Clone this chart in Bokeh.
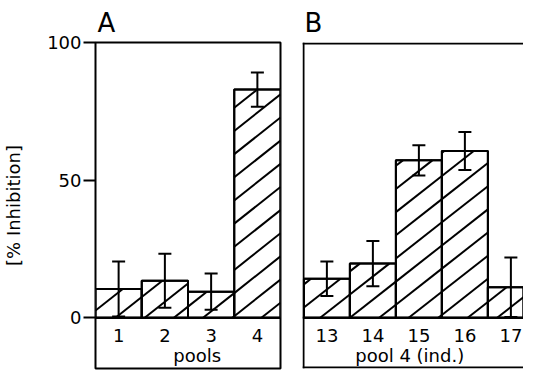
import math
from bokeh.plotting import figure
from bokeh.layouts import row
from bokeh.models import Range1d, Span, Whisker, TeeHead, ColumnDataSource, FixedTicker
from bokeh.embed import file_html
from bokeh.resources import INLINE
from bokeh.core.properties import value

# ---- data ----
pool_labels = ["1", "2", "3", "4"]
pool_values = [10.5, 13.5, 9.5, 82.9]
pool_errors = [10.0, 9.8, 6.6, 6.2]

ind_labels = ["13", "14", "15", "16", "17"]
ind_values = [14.2, 19.7, 57.2, 60.6, 11.1]
ind_errors = [6.3, 8.2, 5.5, 6.9, 10.8]

y_ticks = [0, 50, 100]
y_label = "[% Inhibition]"
titles = ["A", "B"]
x_titles = ["pools", "pool 4 (ind.)"]

# ---- style / layout constants ----
FONT = "DejaVu Sans"
Y0, Y1 = -18.4, 100
FRAME_H = 328
PX_Y = FRAME_H / (Y1 - Y0)
BAR_W = 1.0
HATCH_SLOPE = 0.79      # screen dy/dx of hatch lines
HATCH_SPACING = 23.3    # vertical px between hatch lines


def make_source(labels, vals, errs):
    xs = [float(l) for l in labels]
    return ColumnDataSource(dict(
        x=xs, top=vals, label=labels,
        upper=[v + e for v, e in zip(vals, errs)],
        lower=[v - e for v, e in zip(vals, errs)],
    ))


def hatch_segments(labels, vals, x_ref, px_x, phase):
    """Clip a family of parallel hatch lines to each bar rectangle."""
    m, sv = HATCH_SLOPE, HATCH_SPACING
    out = dict(x0=[], y0=[], x1=[], y1=[])
    for lab, top in zip(labels, vals):
        xc = float(lab)
        xl = (xc - BAR_W / 2 - x_ref) * px_x
        xr = (xc + BAR_W / 2 - x_ref) * px_x
        h = top * PX_Y
        k0 = math.ceil((m * xl - h - phase) / sv)
        k1 = math.floor((m * xr - phase) / sv)
        for k in range(k0, k1 + 1):
            c = k * sv + phase
            a = max(xl, c / m)
            b = min(xr, (h + c) / m)
            if b - a < 0.5:
                continue
            out["x0"].append(x_ref + a / px_x)
            out["y0"].append((m * a - c) / PX_Y)
            out["x1"].append(x_ref + b / px_x)
            out["y1"].append((m * b - c) / PX_Y)
    return ColumnDataSource(out)


def style(p, title):
    p.title.text = title
    p.title.text_font = FONT
    p.title.text_font_size = "26px"
    p.title.text_font_style = "normal"
    p.title.text_color = "black"
    p.title.align = "left"
    p.title.offset = 2
    p.grid.visible = False
    p.xaxis.visible = False
    p.background_fill_color = "white"
    p.border_fill_color = "white"


def draw(p, labels, vals, errs, x_ref, px_x, phase, x_title, x_title_pos):
    src = make_source(labels, vals, errs)
    p.vbar(x="x", top="top", width=BAR_W, source=src, fill_color="white",
           line_color="black", line_width=2)
    hs = hatch_segments(labels, vals, x_ref, px_x, phase)
    p.segment(x0="x0", y0="y0", x1="x1", y1="y1", source=hs,
              line_color="black", line_width=2)
    p.vbar(x="x", top="top", width=BAR_W, source=src, fill_color=None,
           line_color="black", line_width=2)
    w = Whisker(source=src, base="x", upper="upper", lower="lower",
                line_color="black", line_width=2, level="overlay",
                upper_head=TeeHead(size=13, line_width=2, line_color="black"),
                lower_head=TeeHead(size=13, line_width=2, line_color="black"))
    p.add_layout(w)
    p.add_layout(Span(location=0, dimension="width", line_color="black", line_width=2))
    p.text(x="x", y=-6.5, text="label", source=src, text_font=value(FONT),
           text_font_size="18px", text_align="center", text_baseline="middle",
           text_color="black")
    p.text(x=[x_title_pos], y=[-13.8], text=[x_title], text_font=value(FONT),
           text_font_size="18px", text_align="center", text_baseline="middle",
           text_color="black")


# ---- panel A ----
A_LEFT, A_RIGHT, A_W = 93, 8, 288
xa0, xa1 = 0.5, 4.5
PX_XA = (A_W - A_LEFT - A_RIGHT) / (xa1 - xa0)
pA = figure(width=A_W, height=370, x_range=Range1d(xa0, xa1), y_range=Range1d(Y0, Y1),
            output_backend="svg", toolbar_location=None,
            min_border_left=A_LEFT, min_border_right=A_RIGHT, min_border_top=40, min_border_bottom=2)
style(pA, titles[0])
pA.outline_line_color = "black"
pA.outline_line_width = 2
pA.yaxis.ticker = FixedTicker(ticks=y_ticks)
pA.yaxis.minor_tick_line_color = None
pA.yaxis.major_tick_out = 12
pA.yaxis.major_tick_in = 0
pA.yaxis.major_tick_line_width = 2
pA.yaxis.major_tick_line_color = "black"
pA.yaxis.axis_line_color = None
pA.yaxis.major_label_standoff = 2
pA.yaxis.major_label_text_font = FONT
pA.yaxis.major_label_text_font_size = "18px"
pA.yaxis.major_label_text_color = "black"
pA.yaxis.axis_label = y_label
pA.yaxis.axis_label_text_font = FONT
pA.yaxis.axis_label_text_font_size = "18px"
pA.yaxis.axis_label_text_font_style = "normal"
pA.yaxis.axis_label_text_color = "black"
pA.yaxis.axis_label_standoff = 20
draw(pA, pool_labels, pool_values, pool_errors, xa0, PX_XA, 16.0, x_titles[0], 2.7)

# ---- panel B ----
B_LEFT, B_W = 14, 235
PX_XB = 46.0
xb0 = 12.47
xb1 = xb0 + (B_W - B_LEFT) / PX_XB
pB = figure(width=B_W, height=370, x_range=Range1d(xb0, xb1), y_range=Range1d(Y0, Y1),
            output_backend="svg", toolbar_location=None,
            min_border_left=B_LEFT, min_border_right=0, min_border_top=40, min_border_bottom=2)
style(pB, titles[1])
pB.yaxis.visible = False
pB.outline_line_color = None
for loc, dim in [(xb0 + 1 / PX_XB, "height"), (Y1 - 1 / PX_Y, "width"), (Y0 + 1 / PX_Y, "width")]:
    pB.add_layout(Span(location=loc, dimension=dim, line_color="black", line_width=2))
draw(pB, ind_labels, ind_values, ind_errors, xb0, PX_XB, 14.0, x_titles[1], 14.8)

layout = row(pA, pB, spacing=0)
open("out.html", "w").write(file_html(layout, INLINE))
